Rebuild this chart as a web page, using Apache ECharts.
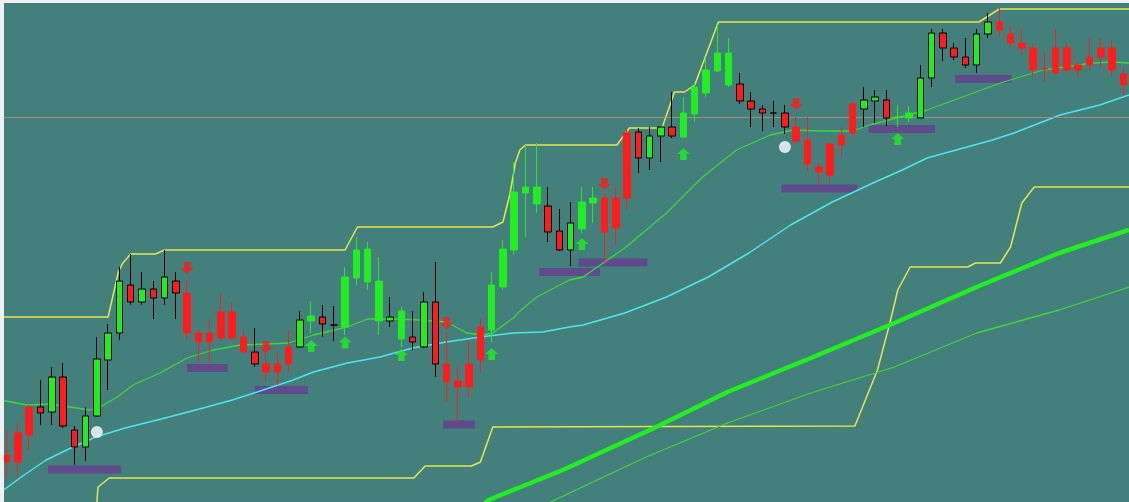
<!DOCTYPE html>
<html>
<head>
<meta charset="utf-8">
<script src="https://cdn.jsdelivr.net/npm/echarts@6/dist/echarts.min.js"></script>
<style>
  html, body { margin: 0; padding: 0; background: #f2f4f4; }
  #chart { width: 1129px; height: 502px; }
</style>
</head>
<body>
<div id="chart"></div>
<script>
// candle prices (points), one per bar
const opens = [47,69,95,95,90,125,72,55,86,142, 169,217,200,213,204,221,209,169,169,190,
  190,165,150,138,138,155,155,181,185,177, 175,224,220,181,181,163,165,155,200,138,
  121,138,175,172,215,252,309,298,296,271, 252,273,299,304,304,369,370,344,366,375,
  365,388,409,431,417,418,401,393,389,389, 375,362,335,358,367,398,393,401,402,385,
  384,384,424,469,454,445,437,468,480,468, 459,454,433,454,454,437,445,454,454,428];
const closes = [40,40,67,89,125,76,55,86,143,169, 221,200,213,204,225,209,169,160,160,164,
  164,150,138,130,130,138,182,186,178,177, 225,252,253,221,185,191,160,200,138,120,
  115,115,142,217,253,310,315,315,270,252, 279,300,304,270,274,304,344,366,375,366,
  389,415,432,449,449,401,393,389,389,375, 361,338,330,327,357,369,402,405,384,385,
  389,424,469,454,445,437,468,480,472,459, 454,432,433,429,432,432,437,445,432,417];
const lows = [25,25,52,77,77,74,37,41,85,112, 162,197,197,183,197,183,162,139,139,161,
  162,149,135,120,117,130,154,169,165,161, 167,217,212,167,175,155,152,154,125,100,
  79,104,129,160,212,247,265,289,260,251, 236,269,279,240,257,292,329,332,340,364,
  364,380,405,430,415,398,375,371,375,368, 359,331,317,319,345,366,375,379,376,375,
  380,384,415,441,442,434,429,464,465,455, 447,425,420,427,429,425,432,434,425,407];
const highs = [72,79,97,122,135,139,76,95,165,178, 235,248,230,221,252,230,222,173,183,209,
  200,173,174,152,150,172,191,201,197,196, 235,265,260,245,205,195,191,210,240,170,
  135,160,184,230,262,340,357,359,315,293, 300,315,315,309,315,374,374,375,375,410,
  405,419,445,477,464,429,410,397,401,397, 385,385,340,360,375,402,415,412,412,397,
  396,437,473,473,459,464,473,489,494,476, 473,459,450,473,459,440,465,464,462,435];
// signal state per bar: r/g = painted trend bar, R/G = plain bar, K = doji
const barKind = ('rrrRGRRGGG' + 'GRGRGRrrrr' + 'rrRrrrGgRK' + 'ggggGgRGRr' + 'rrrgggggRR' +
  'GggrrrRGGR' + 'gggggRRRKR' + 'rrrrrrGGRg' + 'gGGRRRGGrr' + 'rrrrrrrrrr').split('');

// indicator lines: [bar index, price]
const upperBand = [[-0.5,185],[9,185],[9.9,230],[10.3,239],[11,248],[13.2,248],[14,252],[30,252],
  [31.1,275],[43.1,275],[44,280],[44.6,307],[45.1,339],[45.5,352],[46,357],[54.1,357],[55.2,374],
  [58.1,374],[59.2,410],[60.1,410],[61,417],[63.1,480],[86.2,480],[88,493],[99.5,493]];
const lowerBand = [[7.5,-15],[8.0,0],[8.1,15],[9.1,24],[36.1,24],[37.1,36],[41.2,36],[42,40],
  [43.1,75],[75.2,76],[77.2,132],[78.3,179],[79,212],[80.1,235],[85.2,235],[85.9,239],[88.1,239],
  [89,255],[90,299],[91.1,315],[99.5,315]];
const slowMa = [[-0.5,10],[1.3,25],[3.5,42],[5.7,54],[7.9,65],[10.5,74],[13.7,83],[17.1,93],[20,102],
  [22.2,110],[25.4,122],[27.2,130],[30.2,139],[33.1,145],[36,154],[39,160],[42,165],[44.9,169],
  [47.5,170],[49.9,175],[51.1,177],[54.8,189],[58.5,205],[62.2,225],[65.8,249],[69.5,277],[73.2,300],
  [76.8,319],[79.4,332],[81.6,344],[87.4,362],[89.3,369],[93.4,387],[96.9,397],[99.5,407]];
const midMa = [[-0.5,102],[1.8,97],[3.8,98],[6.2,94],[7.4,92],[8.3,95],[9.8,105],[11.2,117],[13.6,129],
  [16,144],[18.3,152],[20.7,157],[23.1,158],[25,159],[27.2,167],[30.2,175],[32,183],[34.6,183],
  [36.6,182],[39,180],[40.8,169],[42.2,167],[43.1,169],[44.9,184],[45.6,192],[47,205],[49.9,222],
  [51.1,225],[54.8,254],[58.5,289],[61.7,325],[64.7,352],[67.7,367],[69.7,372],[72.1,371],[75,371],
  [76.5,377],[81.6,392],[84.5,404],[88.1,419],[91.9,432],[96.3,439],[98.1,440],[99.5,439]];
const midMaRed = [[-1, 8], [34.6, 41.5], [69.7, 72.1], [98.5, 100]];
const trendFast = [[42.2,-4],[42.7,2],[49.3,32],[57.4,74],[63.9,110],[71.3,144],[78.7,179],[86,215],
  [93.3,249],[99.5,272]];
const trendSlow = [[47.9,-3],[48.2,0],[56.7,45],[63.9,79],[71.3,109],[78.7,135],[86,169],[93.3,192],
  [99.5,215]];

// support zones: [from bar, to bar, price]
const zones = [[3.66,10.14,32.5],[16,19.6,134],[22,26.7,112],[38.7,41.5,77.5],[47.2,52.6,230],
  [50.7,56.8,239.5],[68.7,75.4,313.5],[76.4,82.3,373],[84.1,89.1,423]];
const buySignals = [[27,156],[30,159.5],[35,147],[43,148],[51,258],[60,348],[79,363]];
const sellSignals = [[16,234],[23,155],[39,179],[53,318],[70,398]];
const dots = [[8,70],[69,355]];
const levelPrice = 385;

const RED = '#ff1c1c', GREEN = '#22ec22', BLACK = '#000';
const kindStyle = {
  r: { fill: RED, border: RED },
  R: { fill: RED, border: BLACK },
  g: { fill: GREEN, border: GREEN },
  G: { fill: GREEN, border: BLACK },
  K: { fill: BLACK, border: BLACK }
};

const categories = opens.map((_, i) => String(i));
const candleData = opens.map((o, i) => {
  const s = kindStyle[barKind[i]];
  return {
    value: [o, closes[i], lows[i], highs[i]],
    itemStyle: { color: s.fill, color0: s.fill, borderColor: s.border, borderColor0: s.border }
  };
});

const pieces = [];
let prev = -1;
midMaRed.forEach(r => {
  if (r[0] > prev) pieces.push({ gte: prev, lt: r[0], color: '#3ed63e' });
  pieces.push({ gte: r[0], lt: r[1], color: '#c8302c' });
  prev = r[1];
});

const upArrow = 'path://M6,0 L12,6 L9,6 L9,12 L3,12 L3,6 L0,6 Z';
const downArrow = 'path://M3,0 L9,0 L9,6 L12,6 L6,12 L0,6 L3,6 Z';

const chart = echarts.init(document.getElementById('chart'), null, { renderer: 'canvas' });

function lineSeries(data, color, width, z) {
  return {
    type: 'line', xAxisIndex: 1, yAxisIndex: 0, data: data,
    showSymbol: false, symbol: 'none', z: z,
    lineStyle: { color: color, width: width }
  };
}

chart.setOption({
  animation: false,
  backgroundColor: '#437f7b',
  grid: { left: 1, right: 0, top: 0, bottom: 0 },
  xAxis: [
    { type: 'category', data: categories, boundaryGap: true, show: false },
    { type: 'value', min: -0.5, max: 99.5, show: false }
  ],
  yAxis: { type: 'value', min: 0, max: 502, show: false },
  visualMap: {
    type: 'piecewise', show: false, dimension: 0, seriesIndex: 4, pieces: pieces
  },
  graphic: [
    { type: 'rect', left: 0, top: 0, shape: { width: 4, height: 502 }, style: { fill: '#eef2f2' }, z: 100 },
    { type: 'rect', left: 0, top: 0, shape: { width: 1129, height: 3 }, style: { fill: '#eef2f2' }, z: 100 }
  ],
  series: [
    {
      type: 'custom', xAxisIndex: 1, yAxisIndex: 0, z: 2,
      data: zones,
      encode: { x: [0, 1], y: 2 },
      renderItem: function (params, api) {
        const a = api.coord([api.value(0), api.value(2)]);
        const b = api.coord([api.value(1), api.value(2)]);
        return { type: 'rect', shape: { x: a[0], y: a[1] - 4, width: b[0] - a[0], height: 8 },
          style: { fill: '#5f4b8c' } };
      }
    },
    lineSeries(upperBand, '#e6e650', 1.5, 3),
    lineSeries(lowerBand, '#e6e650', 1.5, 3),
    lineSeries(slowMa, '#4ee6ee', 1.5, 3),
    lineSeries(midMa, '#3ed63e', 1.3, 3),
    lineSeries(trendFast, '#22ee22', 4.5, 3),
    lineSeries(trendSlow, '#3ed63e', 1.3, 3),
    {
      type: 'candlestick', xAxisIndex: 0, yAxisIndex: 0, z: 5,
      barWidth: 7,
      data: candleData,
      markLine: {
        silent: true, symbol: 'none', label: { show: false },
        lineStyle: { color: '#b08e7c', width: 1, type: 'solid', opacity: 0.9 },
        data: [{ yAxis: levelPrice }]
      }
    },
    {
      type: 'scatter', xAxisIndex: 1, yAxisIndex: 0, z: 6,
      symbol: upArrow, symbolSize: [13, 12], data: buySignals,
      itemStyle: { color: '#22ee22' }
    },
    {
      type: 'scatter', xAxisIndex: 1, yAxisIndex: 0, z: 6,
      symbol: downArrow, symbolSize: [13, 12], data: sellSignals,
      itemStyle: { color: '#ff1c1c' }
    },
    {
      type: 'scatter', xAxisIndex: 1, yAxisIndex: 0, z: 6,
      symbol: 'circle', symbolSize: 12, data: dots,
      itemStyle: { color: '#ffffff' }
    }
  ]
});
</script>
</body>
</html>
